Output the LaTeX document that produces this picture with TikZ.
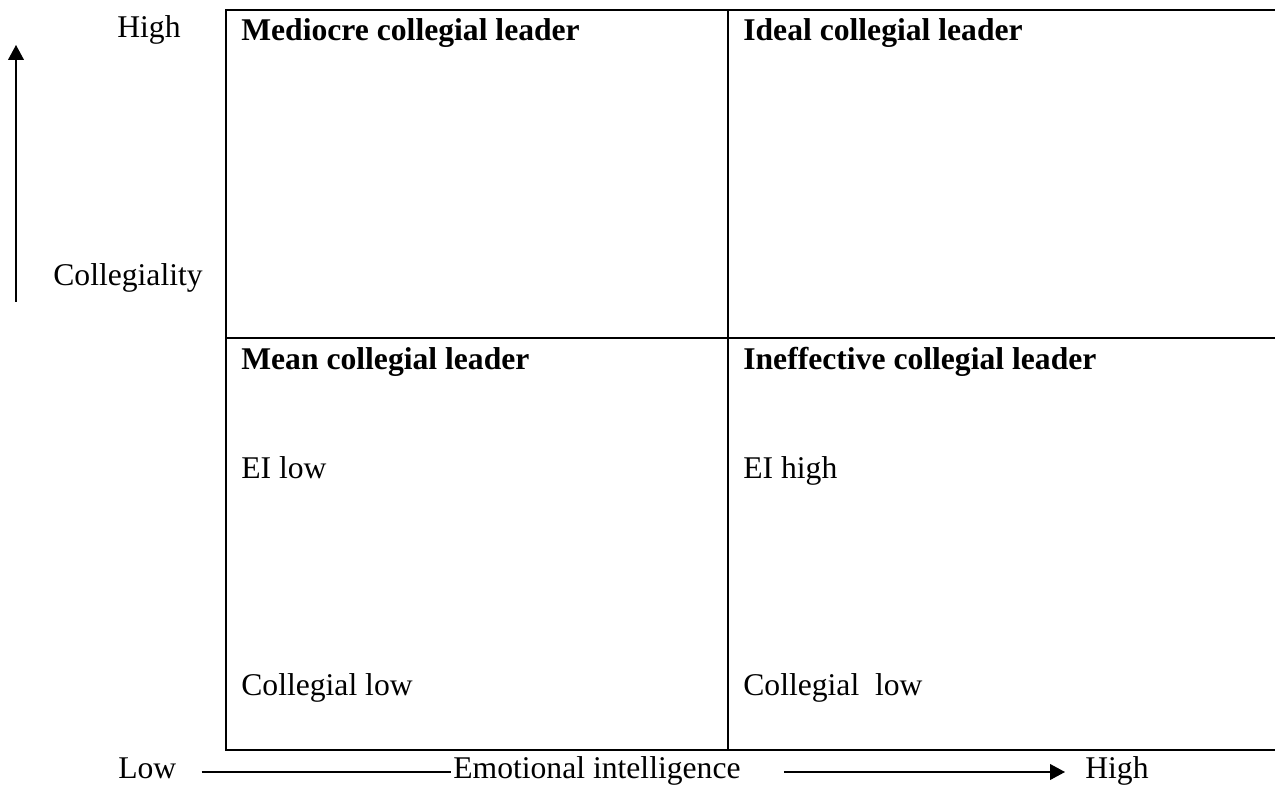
\documentclass[tikz,border=0pt]{standalone}
\usepackage{fontspec}
\setmainfont{Liberation Serif}
\usetikzlibrary{arrows.meta,calc}

\begin{document}
\begin{tikzpicture}[x=0.02cm, y=-0.02cm,
  lbl/.style={anchor=base west, inner sep=0pt, font=\fontsize{18}{22}\selectfont},
  head/.style={lbl, font=\fontsize{18}{22}\selectfont\bfseries},
  gridline/.style={line width=1.1pt},
  axis/.style={line width=0.7pt},
  tip/.style={-{Triangle[length=8.5pt,width=9pt]}}]
\useasboundingbox (0,0) rectangle (1275,787);
% ---- the four quadrants ----
\draw[gridline] (1275,10) -- (226,10) -- (226,750) -- (1275,750);
\draw[gridline] (226,338) -- (1275,338);
\draw[gridline] (728,10) -- (728,750);
\node[head] (mediocre) at (241,41)  {Mediocre collegial leader};
\node[head] (ideal)    at (743,41)  {Ideal collegial leader};
\node[head] (mean)     at (241,369) {Mean collegial leader};
\node[head] (ineff)    at (743,369) {Ineffective collegial leader};
\node[lbl] (eilow)   at (241,478) {EI low};
\node[lbl] (cllow)   at (241,695) {Collegial low};
\node[lbl] (eihigh)  at (743,478) {EI high};
\node[lbl] (clhigh)  at (743,695) {Collegial\ \ low};
% ---- vertical axis: collegiality ----
\node[lbl] (yhigh) at (117,38)  {High};
\node[lbl] (ycoll) at (53,286)  {Collegiality};
\coordinate (ybot) at (16,302);
\coordinate (ytop) at (16,45);
\draw[axis, tip] (ybot) -- (ytop);
% ---- horizontal axis: emotional intelligence ----
\node[lbl] (xlow)  at (118,778)  {Low};
\node[lbl] (xei)   at (453,778)  {Emotional intelligence};
\node[lbl] (xhigh) at (1085,778) {High};
\draw[axis] ($(xlow.base east)+(25,-6)$) -- ($(xei.base west)+(-2,-6)$);
\draw[axis, tip] ($(xei.base east)+(43,-6)$) -- ($(xhigh.base west)+(-20,-6)$);
\end{tikzpicture}
\end{document}
